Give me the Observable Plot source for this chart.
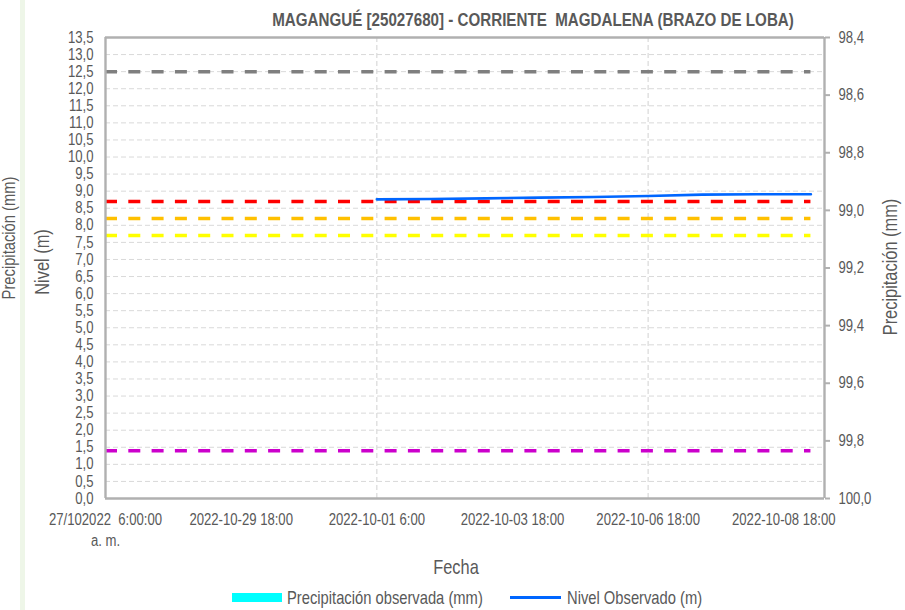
<!DOCTYPE html>
<html>
<head>
<meta charset="utf-8">
<script src="https://cdn.jsdelivr.net/npm/d3@7"></script>
<script src="https://cdn.jsdelivr.net/npm/@observablehq/plot@0.6"></script>
<style>
  html, body { margin: 0; padding: 0; background: #ffffff; }
  #wrap { position: relative; width: 905px; height: 610px; overflow: hidden; background: #ffffff; }
  #wrap > svg { position: absolute; left: 0; top: 0; }
  .t { font-family: 'Liberation Sans Narrow', 'Arial Narrow', 'Liberation Sans', Arial, sans-serif; fill: #595959; }
</style>
</head>
<body>
<div id="wrap"></div>
<script>
// ---- data ----
const title = "MAGANGUÉ [25027680] - CORRIENTE  MAGDALENA (BRAZO DE LOBA)";
const xTickDays = [0, 2.5, 5, 7.5, 10, 12.5];          // days since 27/10/2022 06:00
const xTickLabels = ["27/102022  6:00:00\na. m.", "2022-10-29 18:00", "2022-10-01 6:00",
                     "2022-10-03 18:00", "2022-10-06 18:00", "2022-10-08 18:00"];
const xDomain = [0, 13.25];
const xGridDays = [5, 10];

const levelDays = [5, 6, 7, 8, 9, 10, 11, 12, 13];
const levelValues = [8.76, 8.77, 8.79, 8.81, 8.83, 8.86, 8.90, 8.91, 8.91];

const thresholdValues = [12.5, 8.7, 8.2, 7.7, 1.4];
const thresholdColors = ["#7f7f7f", "#ff0000", "#ffc000", "#ffff00", "#cc00cc"];

const nivelDomain = [0, 13.5];
const nivelTicks = d3.range(0, 13.5001, 0.5);
const precipDomain = [98.4, 100.0];                     // right axis, reversed
const precipTicks = [98.4, 98.6, 98.8, 99.0, 99.2, 99.4, 99.6, 99.8, 100.0];
const precipObserved = [];                              // no precipitation bars

// ---- build ----
const levels = levelDays.map((d, i) => ({day: d, nivel: levelValues[i]}));
const xStart = xDomain[0];
const xEnd = levelDays[levelDays.length - 1];
const p2y = p => (precipDomain[1] - p) / (precipDomain[1] - precipDomain[0]) * (nivelDomain[1] - nivelDomain[0]);
const fmt = v => v.toFixed(1).replace(".", ",");
const FONT = "'Liberation Sans Narrow', 'Arial Narrow', 'Liberation Sans', Arial, sans-serif";
const AXIS = "#b0b0b0";

const marks = [
  Plot.ruleY(nivelTicks.slice(1), {stroke: "#d9d9d9", strokeWidth: 1, strokeDasharray: "5,3"}),
  Plot.ruleX(xGridDays, {stroke: "#d9d9d9", strokeWidth: 1.2, strokeDasharray: "5,3"}),
];
thresholdValues.forEach((v, i) => {
  marks.push(Plot.ruleY([v], {x1: () => xStart, x2: () => xEnd, stroke: thresholdColors[i],
    strokeWidth: 3.5, strokeDasharray: "12,11.3"}));
});
marks.push(
  Plot.rectY(precipObserved, {x1: "x1", x2: "x2", y1: 0, y2: "v", fill: "#00ffff"}),
  Plot.line(levels, {x: "day", y: "nivel", stroke: "#0066ff", strokeWidth: 2.6}),
  Plot.ruleX([xDomain[0], xDomain[1]], {stroke: AXIS, strokeWidth: 2.4}),
  Plot.ruleY([nivelDomain[0], nivelDomain[1]], {stroke: AXIS, strokeWidth: 2.4}),
  Plot.axisY(nivelTicks, {anchor: "left", tickSize: 0, tickPadding: 12, tickFormat: fmt, label: null, fontSize: 16}),
  Plot.axisY(precipTicks.map(p2y), {anchor: "right", tickSize: 5, tickPadding: 9, stroke: AXIS, strokeWidth: 2,
    tickFormat: y => fmt(precipDomain[1] - y / (nivelDomain[1] - nivelDomain[0]) * (precipDomain[1] - precipDomain[0])),
    label: null, fontSize: 16}),
  Plot.axisX(xTickDays, {anchor: "bottom", tickSize: 0, tickPadding: 12, lineHeight: 1.3,
    tickFormat: d => xTickLabels[xTickDays.indexOf(d)], label: null, fontSize: 16})
);

const chart = Plot.plot({
  width: 905,
  height: 610,
  marginTop: 37,
  marginBottom: 112,
  marginLeft: 105,
  marginRight: 81,
  x: {domain: xDomain, axis: null},
  y: {domain: nivelDomain, axis: null},
  style: {fontFamily: FONT, fontSize: "16px", color: "#595959", background: "transparent", overflow: "visible"},
  marks
});
const wrap = document.getElementById("wrap");
wrap.appendChild(chart);

// ---- titles, axis labels and legend ----
const NS = "http://www.w3.org/2000/svg";
const over = document.createElementNS(NS, "svg");
over.setAttribute("width", 905); over.setAttribute("height", 610);
over.style.position = "absolute"; over.style.left = "0"; over.style.top = "0"; over.style.pointerEvents = "none";
wrap.insertBefore(over, chart);

function el(tag, attrs, text) {
  const e = document.createElementNS(NS, tag);
  for (const k in attrs) e.setAttribute(k, attrs[k]);
  if (text != null) e.textContent = text;
  over.appendChild(e);
  return e;
}
el("rect", {x: 20, y: 0, width: 5, height: 610, fill: "#eef6e8"});
el("text", {class: "t", x: 0, y: 0, "font-size": 18, "text-anchor": "middle",
  transform: "translate(15,238) rotate(-90) scale(0.82,1)"}, "Precipitación (mm)");
el("text", {class: "t", x: 0, y: 0, "font-size": 18.5, "font-weight": "bold", "text-anchor": "middle",
  transform: "translate(533,25.5) scale(0.82,1)"}, title.replace("  ", "\u00a0 "));
el("text", {class: "t", x: 0, y: 0, "font-size": 20, "text-anchor": "middle",
  transform: "translate(49,262) rotate(-90) scale(0.82,1)"}, "Nivel (m)");
el("text", {class: "t", x: 0, y: 0, "font-size": 20, "text-anchor": "middle",
  transform: "translate(897,267) rotate(-90) scale(0.82,1)"}, "Precipitación (mm)");
el("text", {class: "t", x: 0, y: 0, "font-size": 20, "text-anchor": "middle",
  transform: "translate(456,574) scale(0.82,1)"}, "Fecha");
el("rect", {x: 232, y: 593, width: 50, height: 9, fill: "#00ffff"});
el("text", {class: "t", x: 0, y: 0, "font-size": 18,
  transform: "translate(287,604) scale(0.82,1)"}, "Precipitación observada (mm)");
el("line", {x1: 510, x2: 561, y1: 597.5, y2: 597.5, stroke: "#0066ff", "stroke-width": 3});
el("text", {class: "t", x: 0, y: 0, "font-size": 18,
  transform: "translate(567,604) scale(0.82,1)"}, "Nivel Observado (m)");

// The reference uses a narrow typeface; emulate it by condensing the installed sans horizontally.
function narrow(root, k) {
  root.querySelectorAll("text").forEach(t => {
    const spans = t.querySelectorAll("tspan");
    const targets = spans.length ? Array.from(spans) : [t];
    targets.forEach(s => {
      const L = s.getComputedTextLength();
      if (L > 0) {
        s.setAttribute("textLength", (L * k).toFixed(2));
        s.setAttribute("lengthAdjust", "spacingAndGlyphs");
      }
    });
  });
}
narrow(chart, 0.82);
</script>
</body>
</html>
